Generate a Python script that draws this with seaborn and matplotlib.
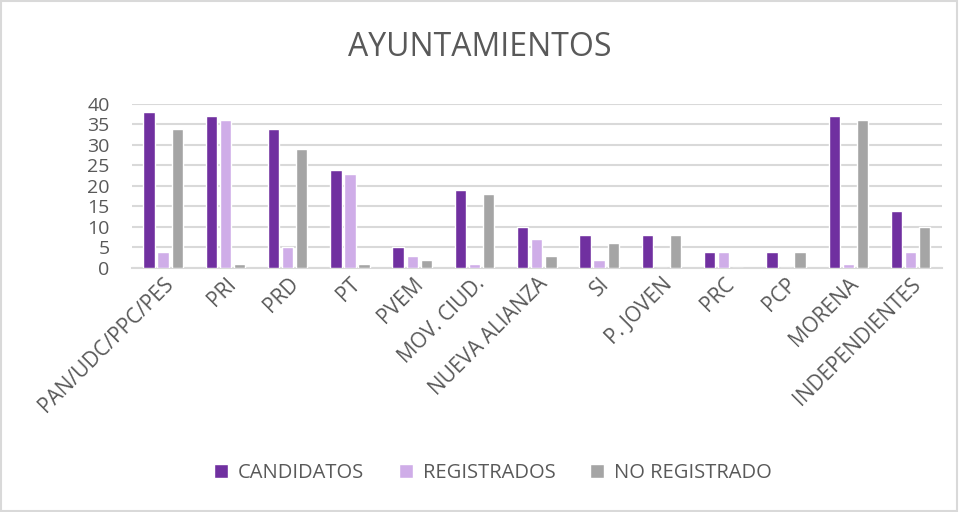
import pandas as pd
import matplotlib
matplotlib.use("Agg")
import matplotlib.pyplot as plt
import seaborn as sns

partidos = ['PAN/UDC/PPC/PES', 'PRI', 'PRD', 'PT', 'PVEM', 'MOV. CIUD.',
            'NUEVA ALIANZA', 'SI', 'P. JOVEN', 'PRC', 'PCP', 'MORENA',
            'INDEPENDIENTES']
candidatos = [38, 37, 34, 24, 5, 19, 10, 8, 8, 4, 4, 37, 14]
registrados = [4, 36, 5, 23, 3, 1, 7, 2, 0, 4, 0, 1, 4]
no_registrado = [34, 1, 29, 1, 2, 18, 3, 6, 8, 0, 4, 36, 10]

series = ['CANDIDATOS', 'REGISTRADOS', 'NO REGISTRADO']
colores = ['#7030A0', '#CFADE8', '#A5A5A5']

df = pd.DataFrame({'partido': partidos, series[0]: candidatos,
                   series[1]: registrados, series[2]: no_registrado})
df = df.melt(id_vars='partido', var_name='serie', value_name='valor')

sns.set_style('white')
plt.rcParams['font.family'] = ['Open Sans', 'DejaVu Sans']
texto = '#595959'

fig = plt.figure(figsize=(9.59, 5.12), dpi=100)
ax = fig.add_axes([0.1376, 0.4766, 0.8444, 0.3204])

sns.barplot(data=df, x='partido', y='valor', hue='serie', hue_order=series,
            palette=colores, width=0.68, gap=0.2, saturation=1, ax=ax,
            legend=True, zorder=3)

ax.set_ylim(0, 40)
ax.set_yticks(range(0, 41, 5))
ax.set_xlim(-0.5, len(partidos) - 0.5)
ax.yaxis.grid(True, color='#D9D9D9', linewidth=1.5, zorder=0)
ax.set_axisbelow(True)
for s in ['top', 'right', 'left']:
    ax.spines[s].set_visible(False)
ax.spines['bottom'].set_color('#D9D9D9')
ax.spines['bottom'].set_linewidth(1.5)
ax.tick_params(axis='both', length=0, colors=texto)
ax.tick_params(axis='y', labelsize=14, pad=16)
ax.tick_params(axis='x', labelsize=15, pad=4)
plt.setp(ax.get_xticklabels(), rotation=45, ha='right', rotation_mode='anchor')
ax.set_xlabel('')
ax.set_ylabel('')

ax.legend(loc='center', ncol=3, frameon=False, fontsize=14.5, labelcolor=texto,
          handlelength=0.7, handleheight=0.7, handletextpad=0.5,
          columnspacing=1.7).set_bbox_to_anchor((0.514, 1 - 473 / 512), fig.transFigure)

fig.text(0.5, 1 - 48 / 512, 'AYUNTAMIENTOS', ha='center', va='center',
         fontsize=23, color=texto)

borde = plt.Rectangle((0.001, 0.002), 0.997, 0.996, transform=fig.transFigure,
                      fill=False, edgecolor='#D9D9D9', linewidth=1.5)
fig.patches.append(borde)

fig.savefig('out.png', dpi=100)
